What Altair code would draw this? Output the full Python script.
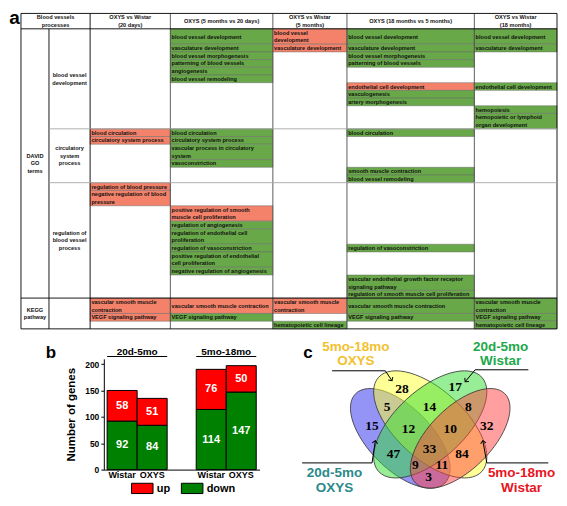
import math
import altair as alt
import pandas as pd

# ============================ DATA ============================
# ---- panel a : table of enriched terms ----
HEADERS = ["Blood vessels\nprocesses", "OXYS vs Wistar\n(20 days)", "OXYS (5 months vs 20 days)",
           "OXYS vs Wistar\n(5 months)", "OXYS (18 months vs 5 months)", "OXYS vs Wistar\n(18 months)"]
TERM_GROUPS = ["DAVID\nGO\nterms", "KEGG\npathway"]
SECTIONS = ["blood vessel\ndevelopment", "circulatory\nsystem\nprocess",
            "regulation of\nblood vessel\nprocess", ""]
ROW_SECTION = [0] * 11 + [1] * 6 + [2] * 10 + [3] * 3
ROW_LINES = [2, 1, 1, 1, 1, 1, 1, 1, 1, 1, 2,
             1, 1, 2, 1, 1, 1,
             1, 2, 2, 1, 2, 1, 2, 1, 2, 1,
             2, 1, 1]

COL_20D = [(11, "up", "blood circulation"), (12, "up", "circulatory system process"),
           (17, "up", "regulation of blood pressure"),
           (18, "up", "negative regulation of blood\npressure"),
           (27, "up", "vascular smooth muscle\ncontraction"), (28, "up", "VEGF signaling pathway")]
COL_5M_VS_20D = [(0, "down", "blood vessel development"), (1, "down", "vasculature development"),
                 (2, "down", "blood vessel morphogenesis"), (3, "down", "patterning of blood vessels"),
                 (4, "down", "angiogenesis"), (5, "down", "blood vessel remodeling"),
                 (11, "down", "blood circulation"), (12, "down", "circulatory system process"),
                 (13, "down", "vascular process in circulatory\nsystem"), (14, "down", "vasoconstriction"),
                 (19, "up", "positive regulation of smooth\nmuscle cell proliferation"),
                 (20, "down", "regulation of angiogenesis"),
                 (21, "down", "regulation of endothelial cell\nproliferation"),
                 (22, "down", "regulation of vasoconstriction"),
                 (23, "down", "positive regulation of endothelial\ncell proliferation"),
                 (24, "down", "negative regulation of angiogenesis"),
                 (27, "up", "vascular smooth muscle contraction"), (28, "down", "VEGF signaling pathway")]
COL_5M = [(0, "up", "blood vessel\ndevelopment"), (1, "up", "vasculature development"),
          (27, "up", "vascular smooth muscle\ncontraction"), (29, "down", "hematopoietic cell lineage")]
COL_18M_VS_5M = [(0, "down", "blood vessel development"), (1, "down", "vasculature development"),
                 (2, "down", "blood vessel morphogenesis"), (3, "down", "patterning of blood vessels"),
                 (6, "up", "endothelial cell development"), (7, "down", "vasculogenesis"),
                 (8, "down", "artery morphogenesis"), (11, "down", "blood circulation"),
                 (15, "down", "smooth muscle contraction"), (16, "down", "blood vessel remodeling"),
                 (22, "down", "regulation of vasoconstriction"),
                 (25, "down", "vascular endothelial growth factor receptor\nsignaling pathway"),
                 (26, "down", "regulation of smooth muscle cell proliferation"),
                 (27, "down", "vascular smooth muscle contraction"), (28, "down", "VEGF signaling pathway")]
COL_18M = [(0, "down", "blood vessel development"), (1, "down", "vasculature development"),
           (6, "down", "endothelial cell development"), (9, "down", "hemopoiesis"),
           (10, "down", "hemopoietic or lymphoid\norgan development"),
           (27, "down", "vascular smooth muscle\ncontraction"), (28, "down", "VEGF signaling pathway"),
           (29, "down", "hematopoietic cell lineage")]

# ---- panel b : numbers of genes ----
GROUPS = ["20d-5mo", "5mo-18mo"]
SAMPLES = ["Wistar", "OXYS"]
UP_COUNTS = [58, 51, 76, 50]
DOWN_COUNTS = [92, 84, 114, 147]
DIRECTIONS = ["up", "down"]

# ---- panel c : Venn diagram ----
SET_KEYS = ["A", "B", "C", "D"]
SET_TITLES = ["20d-5mo\nOXYS", "5mo-18mo\nOXYS", "20d-5mo\nWistar", "5mo-18mo\nWistar"]
REGION_KEYS = ["A", "B", "C", "D", "AB", "BC", "CD", "AD", "AC", "BD", "ABC", "BCD", "ABD", "ACD", "ABCD"]
REGION_COUNTS = [15, 28, 17, 32, 5, 14, 8, 3, 47, 84, 12, 10, 11, 9, 33]

# ============================ STYLE / LAYOUT ============================
FONT = "Liberation Sans"
RED_CELL, GREEN_CELL = "#f4826b", "#68a848"
BAR_COLORS = ["#ff0000", "#008000"]
COL_WIDTHS = [28.8, 42.3, 82.5, 105.4, 76.2, 131.0, 85.0]
HEADER_UNITS = 2
# every panel shares the same plot origin column (x) -> offsets in pixels from it
TABLE_LEFT, TABLE_RIGHT, H_T = -83, 454, 316
BAR_W, BAR_H = 156, 111
VENN_W, VENN_H, VENN_TOP = 255, 148, -13
LEG_X = [27.7, 77.7]

ELLIPSE = {"A": (98, 92.7, 63.3, 45), "B": (128, 78.7, 70, 42.4),
           "C": (128, 78.7, 70, 317.6), "D": (158, 92.7, 63.3, 315)}
ELLIPSE_RATIO = 0.494
ELLIPSE_FILL = {"A": "#2a2af0", "B": "#ffff30", "C": "#30dd30", "D": "#ff4040"}
LABEL_COLOR = {"A": "#2b8a8a", "B": "#f2c12e", "C": "#22a84a", "D": "#e8141e"}
LABEL_POS = {"A": (32, 127.6), "B": (53.5, 1.2), "C": (198.5, 1.2), "D": (219.5, 127.6)}
REGION_POS = {"A": (69.7, 80), "B": (99.7, 43.3), "C": (153, 41.7), "D": (184.7, 80),
              "AB": (84.7, 61.7), "BC": (127.3, 61.7), "CD": (166.3, 61.7), "AD": (126.3, 131.7),
              "AC": (91.3, 108.3), "BD": (159.7, 108.3), "ABC": (106.3, 83.3), "BCD": (148, 83.3),
              "ABD": (139.7, 119), "ACD": (113, 119), "ABCD": (127.3, 103.3)}
LEADERS = {"B": [(29.7, 25), (83, 25), (89.7, 35)],
           "C": [(226.3, 24), (173, 24), (163, 36)],
           "A": [(-0.3, 117.3), (69.7, 117.3), (73, 95)],
           "D": [(246.3, 117.3), (184.7, 117.3), (180.7, 95)]}

# ============================ PANEL A ============================
edges = [0.0]
for w in COL_WIDTHS:
    edges.append(edges[-1] + w)
row_top = []
yy = HEADER_UNITS
for n in ROW_LINES:
    row_top.append(yy)
    yy += n
TOTAL = yy
LH = H_T / TOTAL  # one text line = one row unit
sec_top, sec_bot = {}, {}
for r, s in enumerate(ROW_SECTION):
    sec_top.setdefault(s, row_top[r])
    sec_bot[s] = row_top[r] + ROW_LINES[r]


def first_line(center, text):
    return center - (text.count("\n")) / 2


cell_rows = []
for ci, column in enumerate([COL_20D, COL_5M_VS_20D, COL_5M, COL_18M_VS_5M, COL_18M]):
    x0, x1 = edges[ci + 2], edges[ci + 3]
    for r, kind, text in column:
        cell_rows.append(dict(x0=x0, x1=x1, y0=row_top[r], y1=row_top[r] + ROW_LINES[r],
                              kind=kind, text=text, tx=x0 + 1.3,
                              ty=first_line(row_top[r] + ROW_LINES[r] / 2, text)))
cells = pd.DataFrame(cell_rows)

lab_rows = [dict(text=HEADERS[0], x=(edges[0] + edges[2]) / 2, y=HEADER_UNITS / 2)]
for i, h in enumerate(HEADERS[1:]):
    lab_rows.append(dict(text=h, x=(edges[i + 2] + edges[i + 3]) / 2, y=HEADER_UNITS / 2))
for s, name in enumerate(SECTIONS):
    if name:
        lab_rows.append(dict(text=name, x=(edges[1] + edges[2]) / 2, y=(sec_top[s] + sec_bot[s]) / 2))
lab_rows.append(dict(text=TERM_GROUPS[0], x=(edges[0] + edges[1]) / 2, y=(sec_top[0] + sec_bot[2]) / 2))
lab_rows.append(dict(text=TERM_GROUPS[1], x=(edges[0] + edges[1]) / 2, y=(sec_top[3] + sec_bot[3]) / 2))
for d in lab_rows:
    d["y"] = first_line(d["y"], d["text"])
labels_a = pd.DataFrame(lab_rows)

rule_rows = []
for i, e in enumerate(edges):
    rule_rows.append(dict(x0=e, x1=e, y0=HEADER_UNITS if i == 1 else 0, y1=TOTAL,
                          lk="black" if i in (0, 1, 2, len(edges) - 1) else "dark"))
for yv, xs0, lk in [(0, edges[0], "black"), (HEADER_UNITS, edges[0], "black"),
                    (sec_bot[0], edges[1], "light"), (sec_bot[1], edges[1], "light"),
                    (sec_bot[2], edges[0], "black"), (TOTAL, edges[0], "black")]:
    rule_rows.append(dict(x0=xs0, x1=edges[-1], y0=yv, y1=yv, lk=lk))
rules = pd.DataFrame(rule_rows)

xs = alt.Scale(domain=[0, edges[-1]], range=[TABLE_LEFT, TABLE_RIGHT], nice=False, zero=False)
ys = alt.Scale(domain=[0, TOTAL], nice=False, zero=False, reverse=True)
one = pd.DataFrame({"t": ["a"]})

frame_a = alt.Chart(one).mark_rect(opacity=0).encode(
    x=alt.value(-96), x2=alt.value(TABLE_RIGHT + 1), y=alt.value(-5), y2=alt.value(H_T + 1))
rects = alt.Chart(cells).mark_rect(stroke="#6b6b6b", strokeWidth=0.5).encode(
    x=alt.X("x0:Q", scale=xs, axis=None), x2="x1:Q",
    y=alt.Y("y0:Q", scale=ys, axis=None), y2="y1:Q",
    fill=alt.Fill("kind:N", scale=alt.Scale(domain=DIRECTIONS, range=[RED_CELL, GREEN_CELL]), legend=None))
lines_a = alt.Chart(rules).mark_rule(strokeWidth=0.9).encode(
    x=alt.X("x0:Q", scale=xs, axis=None), x2="x1:Q",
    y=alt.Y("y0:Q", scale=ys, axis=None), y2="y1:Q",
    stroke=alt.Stroke("lk:N", scale=alt.Scale(domain=["black", "dark", "light"],
                                              range=["#000000", "#4d4d4d", "#a6a6a6"]), legend=None))
cell_text = alt.Chart(cells).mark_text(align="left", baseline="middle", font=FONT, fontSize=5.6,
                                       fontWeight="bold", color="#111111", lineBreak="\n",
                                       lineHeight=LH).encode(
    x=alt.X("tx:Q", scale=xs, axis=None), y=alt.Y("ty:Q", scale=ys, axis=None), text="text:N")
head_text = alt.Chart(labels_a).mark_text(align="center", baseline="middle", font=FONT, fontSize=5.6,
                                          fontWeight="bold", color="#111111", lineBreak="\n",
                                          lineHeight=LH).encode(
    x=alt.X("x:Q", scale=xs, axis=None), y=alt.Y("y:Q", scale=ys, axis=None), text="text:N")
tag_a = alt.Chart(one).mark_text(font=FONT, fontSize=19, fontWeight="bold", align="center",
                                 baseline="alphabetic").encode(
    x=alt.value(-89.5), y=alt.value(10.5), text="t:N")
table_chart = alt.layer(frame_a, rects, lines_a, cell_text, head_text, tag_a).properties(
    width=TABLE_RIGHT, height=H_T)

# ============================ PANEL B ============================
bar_rows = []
for i, g in enumerate(GROUPS):
    for j, smp in enumerate(SAMPLES):
        k = i * 2 + j
        bar_rows.append(dict(group=g, sample=smp, direction="down", rank=0, count=DOWN_COUNTS[k]))
        bar_rows.append(dict(group=g, sample=smp, direction="up", rank=1, count=UP_COUNTS[k]))
bar_df = pd.DataFrame(bar_rows)
grp_df = pd.DataFrame({"group": GROUPS})
smp_df = bar_df[bar_df["direction"] == "down"][["group", "sample"]]

x_enc = alt.X("group:N", sort=GROUPS,
              scale=alt.Scale(domain=GROUPS, paddingInner=0.326, paddingOuter=0.037),
              axis=alt.Axis(labels=False, ticks=False, title=None, grid=False,
                            domainColor="black", domainWidth=1))
xo_enc = alt.XOffset("sample:N", sort=SAMPLES,
                     scale=alt.Scale(domain=SAMPLES, paddingInner=0, paddingOuter=0))
y_scale = alt.Scale(domain=[0, 210], nice=False, zero=True)
y_axis = alt.Axis(values=[0, 50, 100, 150, 200], title="Number of genes", titleFont=FONT,
                  titleFontSize=11.5, titleFontWeight="bold", titleColor="black", titlePadding=8,
                  labelFont=FONT, labelFontSize=8.5, labelFontWeight="bold", labelColor="black",
                  labelPadding=2, tickSize=3, tickColor="black", domainColor="black", grid=False)
color_scale = alt.Scale(domain=DIRECTIONS, range=BAR_COLORS)

frame_b = alt.Chart(one).mark_rect(opacity=0).encode(
    x=alt.value(-96), x2=alt.value(BAR_W + 2), y=alt.value(-20), y2=alt.value(136))
bars = alt.Chart(bar_df).mark_bar(stroke="black", strokeWidth=1).encode(
    x=x_enc, xOffset=xo_enc,
    y=alt.Y("count:Q", stack="zero", scale=y_scale, axis=y_axis),
    color=alt.Color("direction:N", scale=color_scale, legend=None),
    order=alt.Order("rank:Q", sort="ascending"))
vals = alt.Chart(bar_df).transform_stack(
    stack="count", groupby=["group", "sample"], as_=["y0", "y1"],
    sort=[alt.SortField(field="rank", order="ascending")]
).transform_calculate(mid="(datum.y0 + datum.y1) / 2").mark_text(
    font=FONT, fontSize=11, fontWeight="bold", color="white", baseline="middle").encode(
    x=x_enc, xOffset=xo_enc, y=alt.Y("mid:Q", scale=y_scale, axis=y_axis), text="count:Q")
gtitle = alt.Chart(grp_df).mark_text(font=FONT, fontSize=10, fontWeight="bold", baseline="middle",
                                     color="black").encode(
    x=x_enc, y=alt.value(-7.3), text="group:N")
gline = alt.Chart(grp_df).mark_rect(color="black").encode(
    x=x_enc, y=alt.value(-2.9), y2=alt.value(-1.9))
xlab = alt.Chart(smp_df).mark_text(font=FONT, fontSize=9, fontWeight="bold", baseline="middle",
                                   color="black").encode(
    x=x_enc, xOffset=xo_enc, y=alt.value(BAR_H + 5), text="sample:N")
tag_b = alt.Chart(pd.DataFrame({"t": ["b"]})).mark_text(
    font=FONT, fontSize=17, fontWeight="bold", baseline="middle").encode(
    x=alt.value(-53), y=alt.value(-6.3), text="t:N")
legend_layers = []
for i, d in enumerate(DIRECTIONS):
    ddf = pd.DataFrame({"direction": [d]})
    legend_layers.append(alt.Chart(ddf).mark_rect(stroke="black", strokeWidth=1).encode(
        x=alt.value(LEG_X[i]), x2=alt.value(LEG_X[i] + 21.6), y=alt.value(124.7), y2=alt.value(135),
        color=alt.Color("direction:N", scale=color_scale, legend=None)))
    legend_layers.append(alt.Chart(ddf).mark_text(
        font=FONT, fontSize=11, fontWeight="bold", align="left", baseline="middle", color="black").encode(
        x=alt.value(LEG_X[i] + 25.3), y=alt.value(130), text="direction:N"))
bar_chart = alt.layer(frame_b, bars, vals, gtitle, gline, xlab, tag_b, *legend_layers).properties(
    width=BAR_W, height=BAR_H)

# ============================ PANEL C ============================
def ellipse_path(q, k=0.5523):
    return (f"M1,0C1,{k*q:.4f} {k:.4f},{q:.4f} 0,{q:.4f}"
            f"C{-k:.4f},{q:.4f} -1,{k*q:.4f} -1,0"
            f"C-1,{-k*q:.4f} {-k:.4f},{-q:.4f} 0,{-q:.4f}"
            f"C{k:.4f},{-q:.4f} 1,{-k*q:.4f} 1,0Z")


ell_df = pd.DataFrame([dict(key=k, x=ELLIPSE[k][0], y=ELLIPSE[k][1], sz=4 * ELLIPSE[k][2] ** 2,
                            ang=ELLIPSE[k][3], fill=ELLIPSE_FILL[k]) for k in SET_KEYS])
reg_df = pd.DataFrame([dict(key=k, n=c, x=REGION_POS[k][0], y=REGION_POS[k][1])
                       for k, c in zip(REGION_KEYS, REGION_COUNTS)])
set_df = pd.DataFrame([dict(key=k, title=t, x=LABEL_POS[k][0], y=LABEL_POS[k][1], lc=LABEL_COLOR[k])
                       for k, t in zip(SET_KEYS, SET_TITLES)])
lead_rows, arrow_rows = [], []
for k, pts in LEADERS.items():
    for i, (px, py) in enumerate(pts):
        lead_rows.append(dict(key=k, idx=i, x=px, y=py))
    (ax, ay), (bx, by) = pts[-2], pts[-1]
    arrow_rows.append(dict(key=k, x=bx, y=by, ang=math.degrees(math.atan2(by - ay, bx - ax)) % 360))
lead_df = pd.DataFrame(lead_rows)
arrow_df = pd.DataFrame(arrow_rows)

vx = alt.Scale(domain=[0, VENN_W], nice=False, zero=False)
vy = alt.Scale(domain=[0, VENN_H], range=[VENN_TOP, VENN_TOP + VENN_H], nice=False, zero=False)
VX = alt.X("x:Q", scale=vx, axis=None)
VY = alt.Y("y:Q", scale=vy, axis=None)

frame_c = alt.Chart(one).mark_rect(opacity=0).encode(
    x=alt.value(-2), x2=alt.value(VENN_W + 2), y=alt.value(-20), y2=alt.value(137))
ellipses = alt.Chart(ell_df).mark_point(shape=ellipse_path(ELLIPSE_RATIO), filled=True, opacity=1,
                                        fillOpacity=0.5, stroke="#3a3a3a", strokeWidth=0.8,
                                        strokeOpacity=1).encode(
    x=VX, y=VY, size=alt.Size("sz:Q", scale=None), angle=alt.Angle("ang:Q", scale=None),
    color=alt.Color("fill:N", scale=None))
numbers = alt.Chart(reg_df).mark_text(font="Liberation Serif", fontSize=13.5, fontWeight="bold",
                                      color="black", baseline="middle").encode(
    x=VX, y=VY, text="n:Q")
leaders = alt.Chart(lead_df).mark_line(color="black", strokeWidth=1).encode(
    x=VX, y=VY, detail="key:N", order="idx:Q")
arrows = alt.Chart(arrow_df).mark_point(shape="M-1,-1L0,0L-1,1", filled=False, size=30, opacity=1,
                                        color="black", strokeWidth=1).encode(
    x=VX, y=VY, angle=alt.Angle("ang:Q", scale=None))
set_labels = alt.Chart(set_df).mark_text(font=FONT, fontSize=13.5, fontWeight="bold", align="center",
                                         baseline="middle", lineBreak="\n", lineHeight=14.5).encode(
    x=VX, y=VY, text="title:N", color=alt.Color("lc:N", scale=None))
tag_c = alt.Chart(pd.DataFrame({"t": ["c"]})).mark_text(
    font=FONT, fontSize=17, fontWeight="bold", baseline="middle").encode(
    x=alt.value(5.5), y=alt.value(7 + VENN_TOP), text="t:N")
venn_chart = alt.layer(frame_c, ellipses, numbers, leaders, arrows, set_labels, tag_c).properties(
    width=VENN_W, height=VENN_H + VENN_TOP)

# ============================ ASSEMBLY ============================
chart = alt.vconcat(
    table_chart,
    alt.hconcat(bar_chart, venn_chart, spacing=38),
    spacing=9,
).properties(padding=0).configure(font=FONT).configure_view(stroke=None)

chart.save("out.html", embed_options={"renderer": "svg", "actions": False})
